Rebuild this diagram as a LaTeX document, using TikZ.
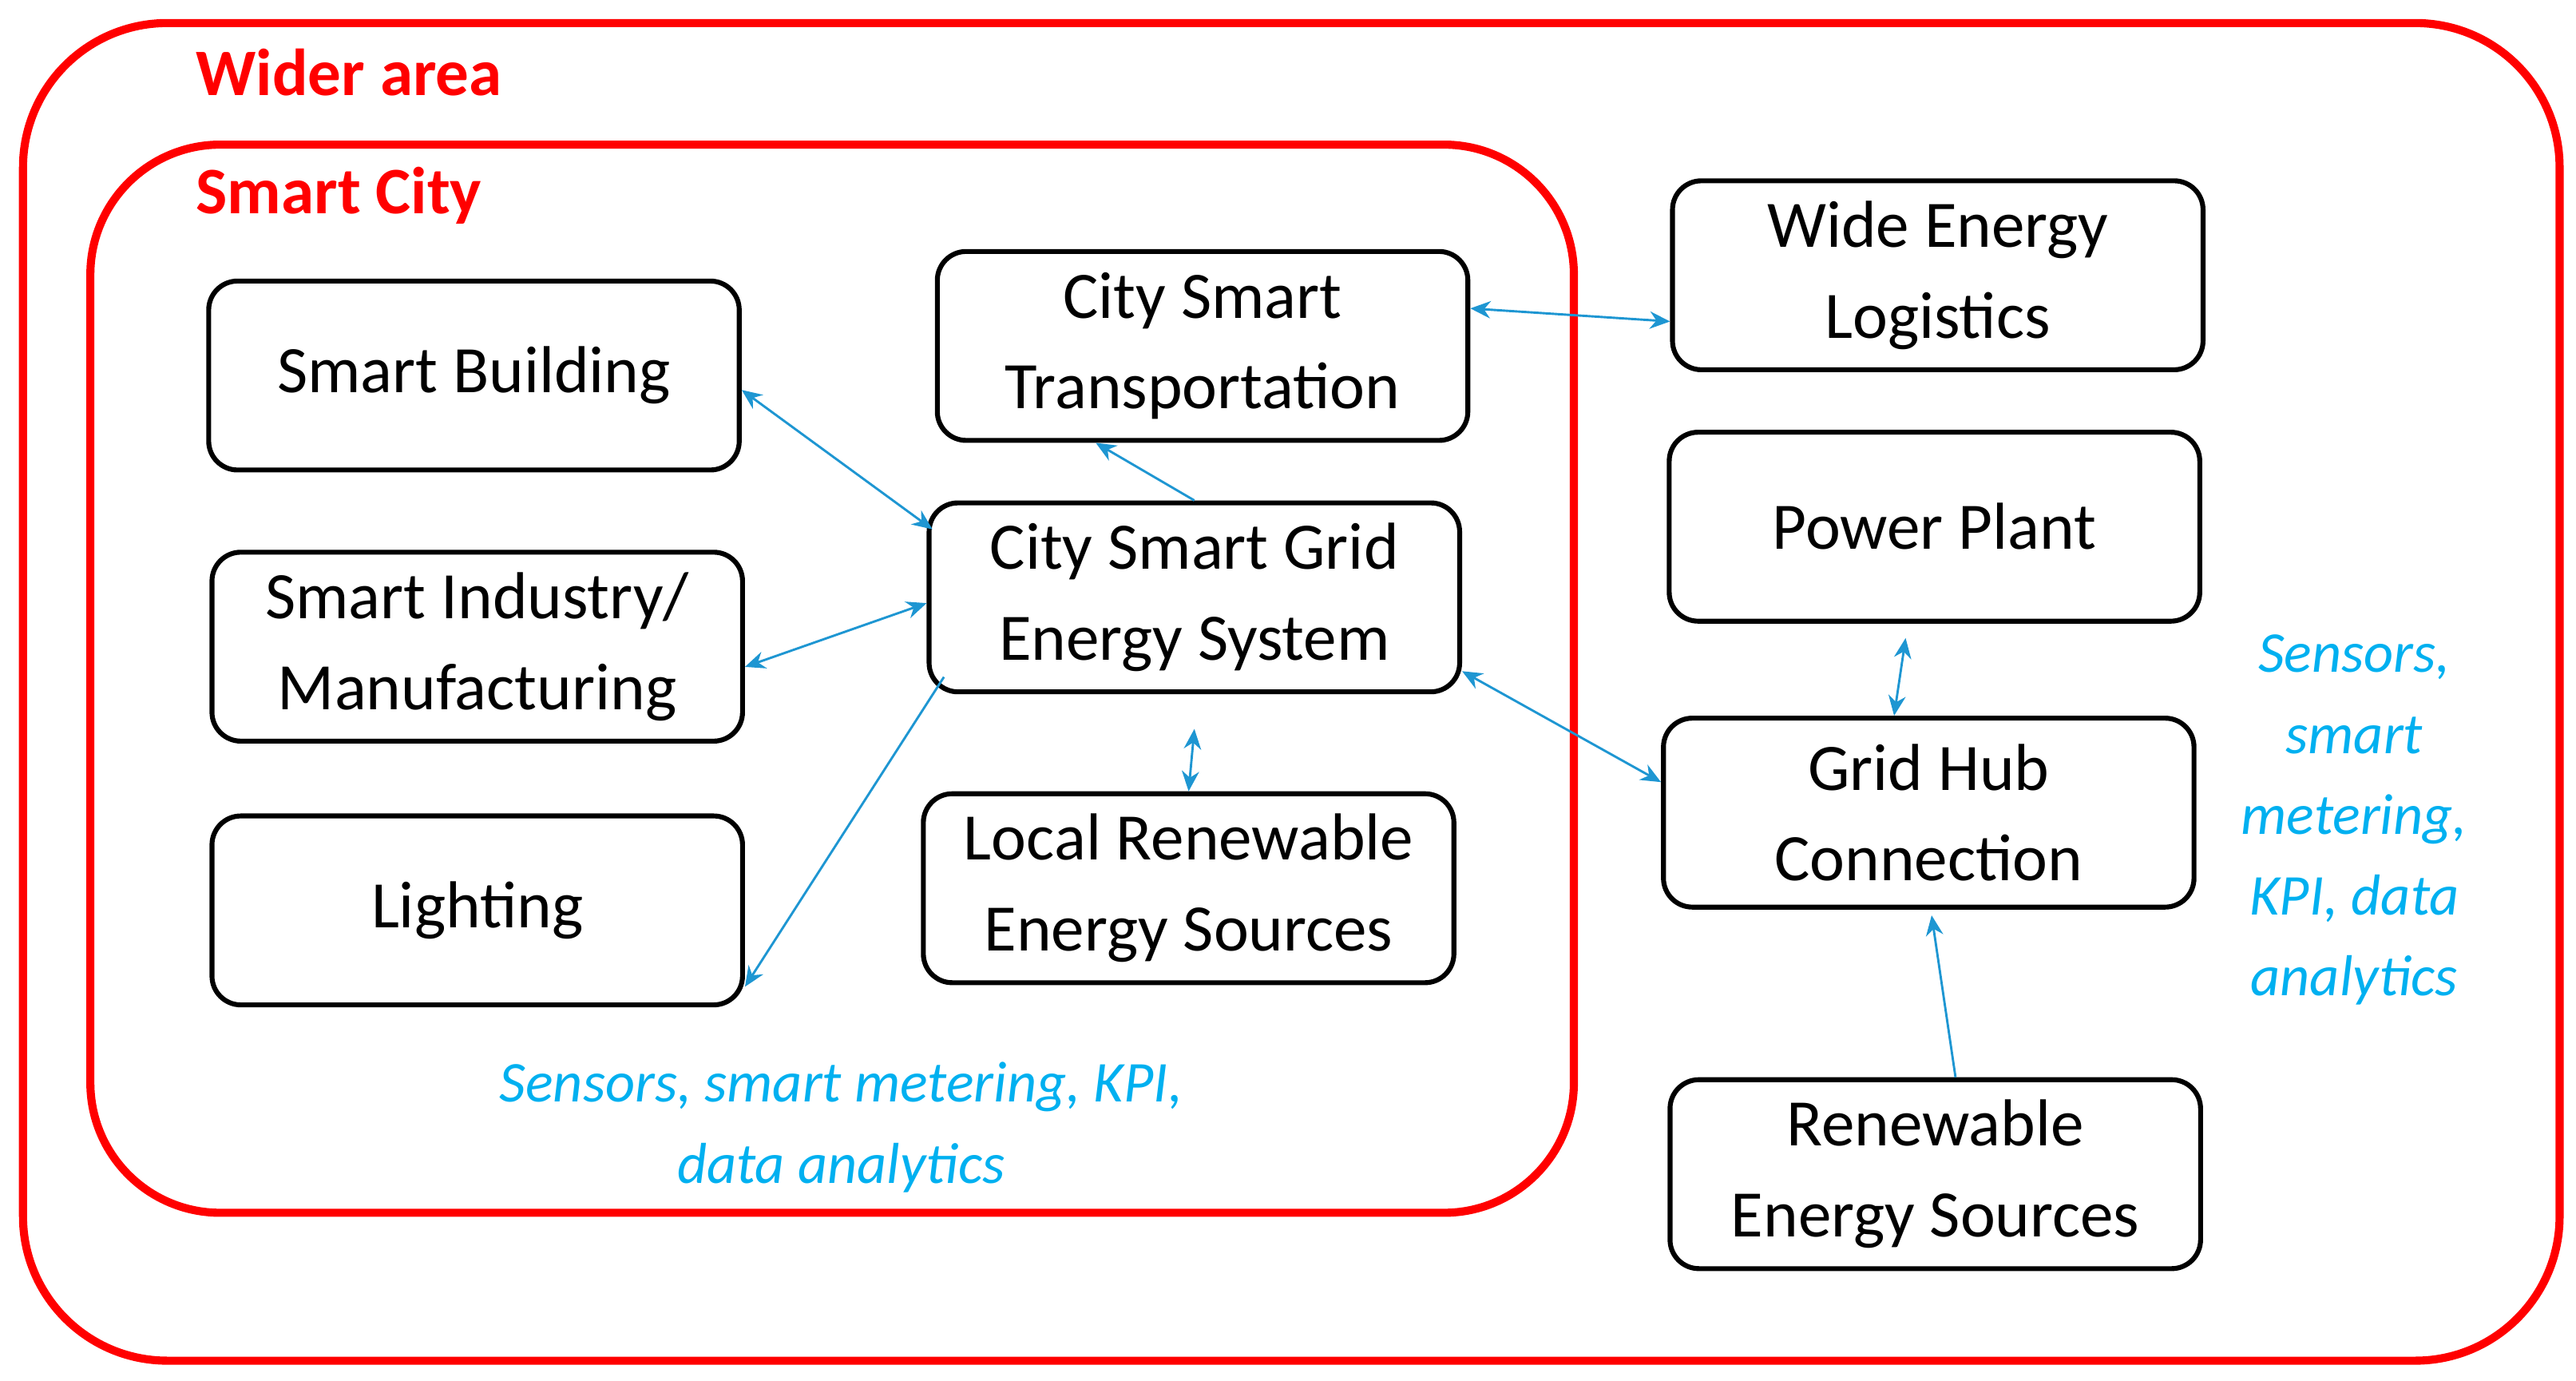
\documentclass[tikz,border=0pt]{standalone}
\usepackage{fontspec}
\setmainfont{Carlito}
\usetikzlibrary{arrows.meta}
\definecolor{lb}{RGB}{0,176,240}
\definecolor{ar}{RGB}{30,150,210}
\begin{document}
\begin{tikzpicture}[x=0.02cm,y=-0.02cm,
 box/.style={draw,line width=1.7pt,rounded corners=10pt,align=center,minimum width=6.46cm,minimum height=2.3cm,inner sep=2pt,font=\fontsize{23}{31.5}\selectfont},
 area/.style={draw=red,line width=2.8pt},
 lab/.style={text=red,font=\fontsize{23}{27}\selectfont\bfseries,anchor=west,inner sep=0},
 con/.style={draw=ar,line width=0.8pt,-{Stealth[length=7pt,width=6pt]}},
 bi/.style={con,{Stealth[length=7pt,width=6pt]}-{Stealth[length=7pt,width=6pt]}},
 note/.style={text=lb,font=\fontsize{20}{28}\selectfont\itshape,align=center}]
\useasboundingbox (0,0) rectangle (1568,840);
\draw[area,rounded corners=50pt] (14,14) rectangle (1558,828);
\draw[area,rounded corners=45pt] (55,88) rectangle (958,738);
\node[lab] (wa) at (119,44) {Wider area};
\node[lab] (sc) at (119,119) {Smart City};
\node[box] (sb) at (288.5,228.5) {Smart Building};
\node[box] (si) at (290.5,393.5) {Smart Industry/\\Manufacturing};
\node[box] (li) at (290.5,554) {Lighting};
\node[box] (tr) at (732,210.5) {City Smart\\Transportation};
\node[box] (gr) at (727,363.5) {City Smart Grid\\Energy System};
\node[box] (lo) at (723.5,540.5) {Local Renewable\\Energy Sources};
\node[box] (we) at (1179.5,167.5) {Wide Energy\\Logistics};
\node[box] (pp) at (1177.5,320.5) {Power Plant};
\node[box] (hu) at (1174,494.5) {Grid Hub\\Connection};
\node[box] (re) at (1178,714.5) {Renewable\\Energy Sources};
\node[note] (n1) at (512,686) {Sensors, smart metering, KPI,\\data analytics};
\node[note] (n2) at (1433,499) {Sensors,\\smart\\metering,\\KPI, data\\analytics};
\draw[bi] ([yshift=-5pt]sb.east) -- ([xshift=2pt,yshift=-10pt]gr.north west);
\draw[bi] ([yshift=-7pt]si.east) -- ([yshift=-2pt]gr.west);
\draw[con] ([xshift=6pt,yshift=6pt]gr.south west) -- ([yshift=-60pt]li.north east);
\draw[con] (gr.north) -- ([xshift=-37pt]tr.south);
\draw[bi] ([yshift=-12pt]gr.south) -- ([xshift=0pt]lo.north);
\draw[bi] ([yshift=8pt]gr.south east) -- ([yshift=-23pt]hu.north west);
\draw[bi] ([yshift=13pt]tr.east) -- ([yshift=-16pt]we.west);
\draw[bi] ([xshift=-10pt,yshift=-5pt]pp.south) -- ([xshift=-12pt]hu.north);
\draw[con] ([xshift=7pt]re.north) -- ([xshift=1pt,yshift=-2pt]hu.south);
\end{tikzpicture}
\end{document}
